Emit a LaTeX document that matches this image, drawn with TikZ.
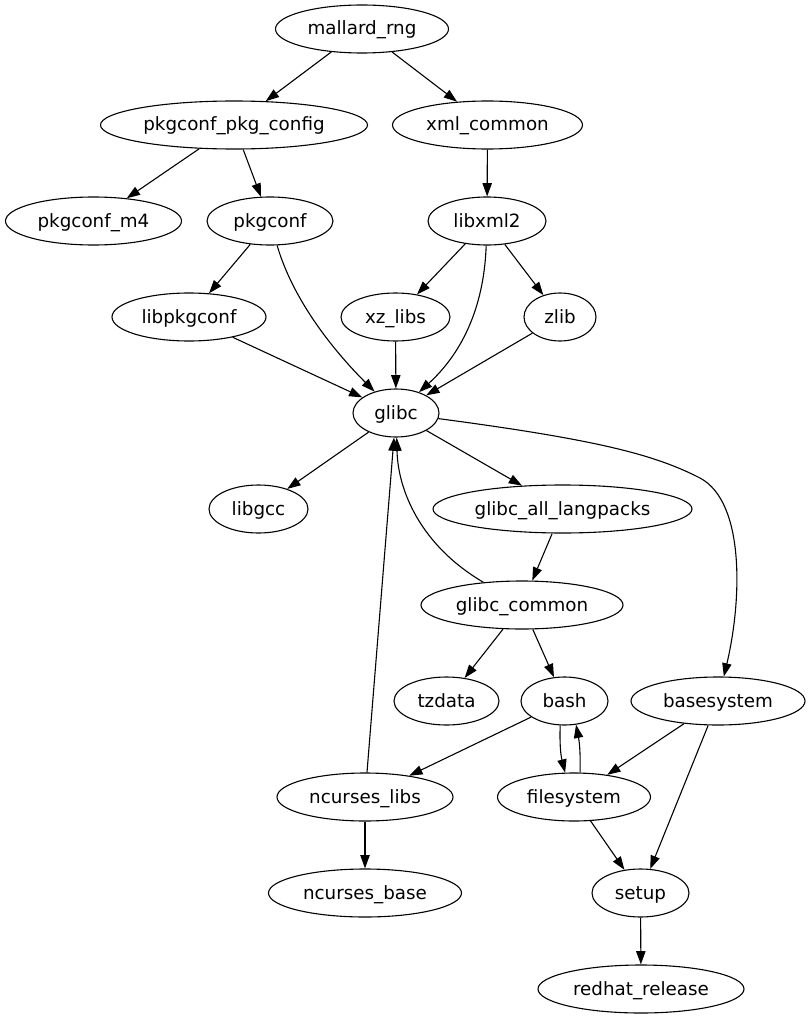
\documentclass[tikz,border=0pt]{standalone}
\usepackage{fontspec}
\setmainfont{DejaVu Sans}
\usetikzlibrary{arrows.meta,shapes.geometric}
\begin{document}
\begin{tikzpicture}[x=1pt,y=-1pt,
  pkg/.style={draw, ellipse, line width=1.1pt, inner sep=0pt, minimum height=48pt,
    font=\fontsize{18.3}{22}\selectfont, text height=12pt, text depth=0pt},
  dep/.style={line width=1.1pt, -{Triangle[length=13.3pt,width=9.3pt]}}]
\useasboundingbox (0,0) rectangle (811,1019);
\node[pkg, minimum width=173pt] (mallardrng) at (362,29) {mallard\_rng};
\node[pkg, minimum width=267pt] (pkgconfpkgconfig) at (234,125) {pkgconf\_pkg\_config};
\node[pkg, minimum width=190pt] (xmlcommon) at (487.5,125) {xml\_common};
\node[pkg, minimum width=176pt] (pkgconfmfour) at (93.5,221) {pkgconf\_m4};
\node[pkg, minimum width=126pt] (pkgconf) at (270,221) {pkgconf};
\node[pkg, minimum width=118pt] (libxml) at (487,221) {libxml2};
\node[pkg, minimum width=154pt] (libpkgconf) at (189,317) {libpkgconf};
\node[pkg, minimum width=109pt] (xzlibs) at (395.5,317) {xz\_libs};
\node[pkg, minimum width=72pt] (zlib) at (560,317) {zlib};
\node[pkg, minimum width=86pt] (glibc) at (396,413) {glibc};
\node[pkg, minimum width=99pt] (libgcc) at (258.5,509) {libgcc};
\node[pkg, minimum width=259pt] (langpacks) at (562.5,509) {glibc\_all\_langpacks};
\node[pkg, minimum width=202pt] (glibccommon) at (522,605) {glibc\_common};
\node[pkg, minimum width=105pt] (tzdata) at (446.5,701) {tzdata};
\node[pkg, minimum width=87pt] (bash) at (564.5,701) {bash};
\node[pkg, minimum width=174pt] (basesystem) at (718,701) {basesystem};
\node[pkg, minimum width=176pt] (ncurseslibs) at (365,797) {ncurses\_libs};
\node[pkg, minimum width=153pt] (filesystem) at (574,797) {filesystem};
\node[pkg, minimum width=193pt] (ncursesbase) at (365,893) {ncurses\_base};
\node[pkg, minimum width=97pt] (setup) at (640.5,893) {setup};
\node[pkg, minimum width=206pt] (redhat) at (641,989) {redhat\_release};

\draw[dep] (mallardrng) -- (pkgconfpkgconfig);
\draw[dep] (mallardrng) -- (xmlcommon);
\draw[dep] (pkgconfpkgconfig) -- (pkgconfmfour);
\draw[dep] (pkgconfpkgconfig) -- (pkgconf);
\draw[dep] (xmlcommon) -- (libxml);
\draw[dep] (pkgconf) -- (libpkgconf);
\draw[dep] (pkgconf) .. controls (293,300) and (333,350) .. (glibc);
\draw[dep] (libxml) -- (xzlibs);
\draw[dep] (libxml) .. controls (484,310) and (460,355) .. (glibc);
\draw[dep] (libxml) -- (zlib);
\draw[dep] (libpkgconf) -- (glibc);
\draw[dep] (xzlibs) -- (glibc);
\draw[dep] (zlib) -- (glibc);
\draw[dep] (glibc) -- (libgcc);
\draw[dep] (glibc) -- (langpacks);
\draw[dep] (glibc) .. controls (600,440) and (655,455) .. (700,478)
  .. controls (745,502) and (742,600) .. (basesystem);
\draw[dep] (langpacks) -- (glibccommon);
\draw[dep] (glibccommon) .. controls (420,545) and (398,490) .. (glibc);
\draw[dep] (glibccommon) -- (tzdata);
\draw[dep] (glibccommon) -- (bash);
\draw[dep] (bash) -- (ncurseslibs);
\draw[dep] (bash.260) to[bend right=8] (filesystem.110);
\draw[dep] (filesystem.76) to[bend right=6] (bash.-64);
\draw[dep] (basesystem) -- (filesystem);
\draw[dep] (basesystem) -- (setup);
\draw[dep] (filesystem) -- (setup);
\draw[dep] (ncurseslibs) -- (glibc);
\draw[dep] (ncurseslibs) -- (ncursesbase);
\draw[dep] (setup) -- (redhat);
\end{tikzpicture}
\end{document}
